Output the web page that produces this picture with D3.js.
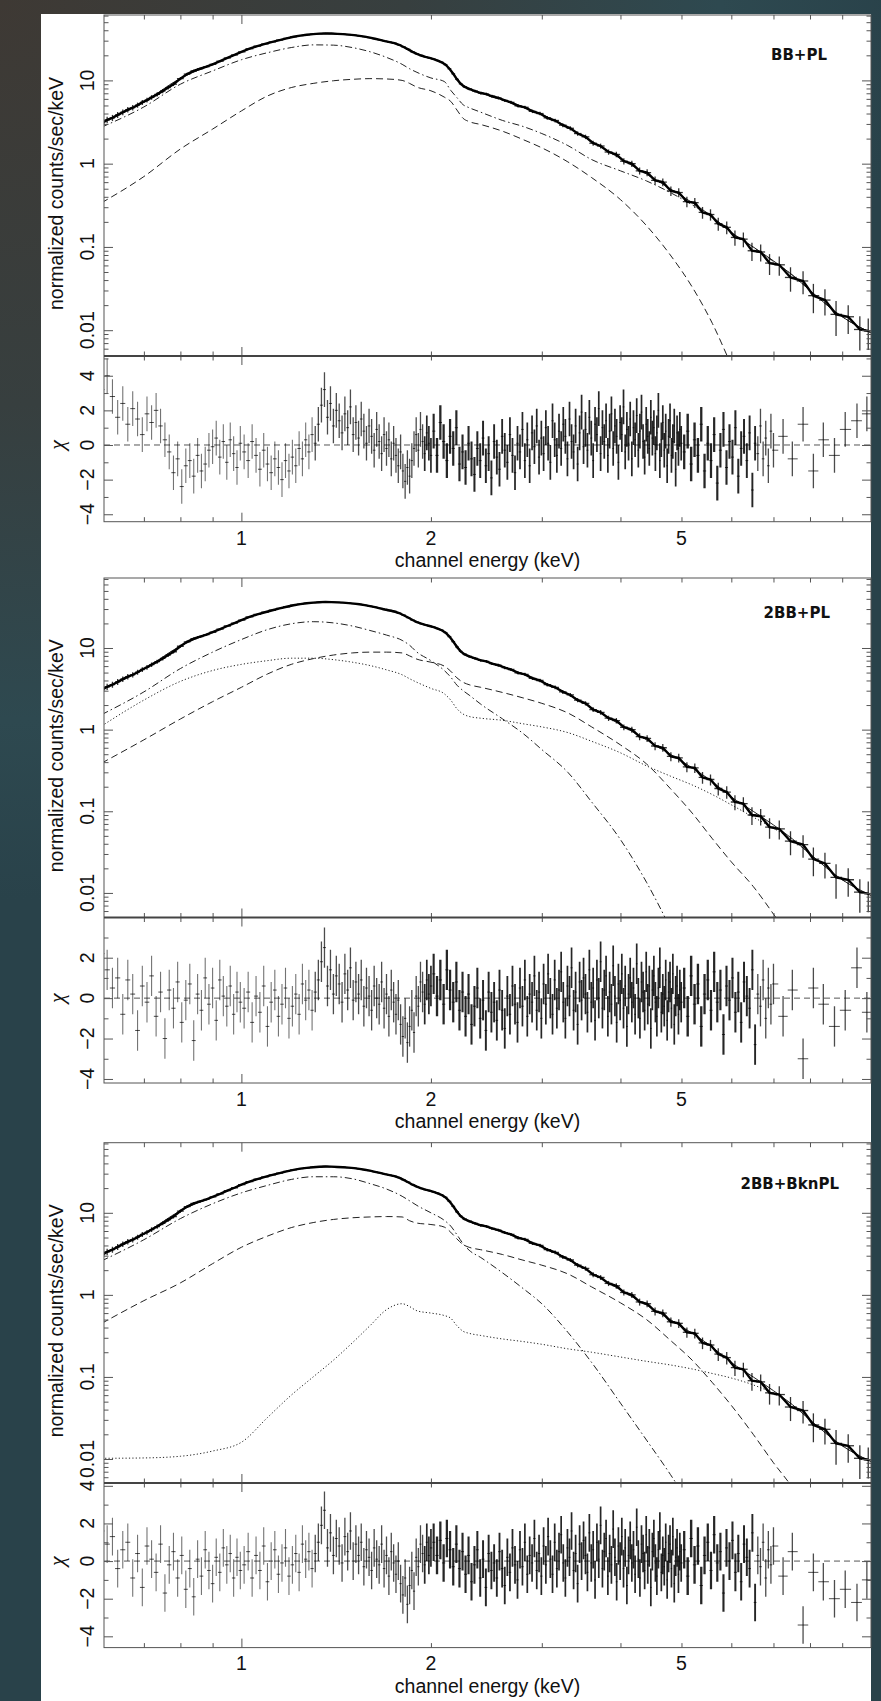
<!DOCTYPE html>
<html>
<head>
<meta charset="utf-8">
<script src="https://cdn.jsdelivr.net/npm/d3@7"></script>
<style>
  body { margin: 0; background: #2a4047; }
  svg text { font-family: "Liberation Sans", Arial, Helvetica, sans-serif; fill: #111; }
</style>
</head>
<body>
<script>
const width = 881, height = 1701;
const left = 104, right = 871;

// residual bins: channel energy (keV), shared by the three fits
const chanE = [
  0.600,0.612,0.624,0.636,0.648,0.660,0.672,0.684,0.696,0.708,
  0.720,0.732,0.744,0.756,0.768,0.780,0.792,0.804,0.816,0.828,
  0.840,0.852,0.864,0.876,0.888,0.900,0.912,0.924,0.936,0.948,
  0.960,0.972,0.984,0.996,
  1.010,1.025,1.040,1.055,1.070,1.085,1.100,1.115,1.130,1.145,
  1.160,1.175,1.190,1.205,1.220,1.235,1.250,1.265,1.280,1.295,
  1.310,1.325,1.340,1.355,1.370,1.385,1.400,1.415,1.430,1.445,
  1.460,1.475,1.490,1.505,1.520,1.535,1.550,1.565,1.580,1.595,
  1.610,1.625,1.640,1.655,1.670,1.685,1.700,1.715,1.730,1.745,
  1.760,1.775,1.790,1.805,1.820,1.835,1.850,1.865,1.880,1.895,
  1.910,1.925,1.940,1.955,1.970,1.985,2.000,
  2.020,2.045,2.070,2.095,2.120,2.145,2.170,2.195,2.220,2.245,
  2.270,2.295,2.320,2.345,2.370,2.395,2.420,2.445,2.470,2.495,
  2.520,2.545,2.570,2.595,2.620,2.645,2.670,2.695,2.720,2.745,
  2.770,2.795,2.820,2.845,2.870,2.895,2.920,2.945,2.970,2.995,
  3.020,3.045,3.070,3.095,3.120,3.145,3.170,3.195,3.220,3.245,
  3.270,3.295,3.320,3.345,3.370,3.395,3.420,3.445,3.470,3.495,
  3.520,3.545,3.570,3.595,3.620,3.645,3.670,3.695,3.720,3.745,
  3.770,3.795,3.820,3.845,3.870,3.895,3.920,3.945,3.970,3.995,
  4.020,4.045,4.070,4.095,4.120,4.145,4.170,4.195,4.220,4.245,
  4.270,4.295,4.320,4.345,4.370,4.395,4.420,4.445,4.470,4.495,
  4.520,4.545,4.570,4.595,4.620,4.645,4.670,4.695,4.720,4.745,
  4.770,4.795,4.820,4.845,4.870,4.895,4.920,4.945,4.970,4.995,
  5.050,5.115,5.180,5.245,5.310,5.375,5.440,5.505,5.570,5.635,
  5.700,5.765,5.830,5.895,5.960,6.025,6.090,6.155,6.220,6.285,
  6.350,6.415,6.480,6.545,6.610,6.675,6.740,6.805,6.870,6.935,
  7.000,
  7.25,7.50,7.80,8.10,8.40,8.75,9.10,9.50,9.85
];

// residuals (chi) for BB+PL
const chiBBPL = [
  3.2,4.0,2.8,1.6,2.4,1.2,2.1,1.5,0.6,1.8,
  1.3,2.0,1.1,0.3,-0.4,-1.6,-0.8,-2.4,-1.2,-0.9,
  -1.8,-0.6,-1.5,-1.1,-0.3,-0.1,0.4,-0.7,0.2,-1.0,
  0.3,-0.5,-1.3,0.1,
  -0.4,-0.9,0.2,-0.6,-1.4,-0.3,-1.1,-1.6,-0.8,-1.3,
  -2.0,-0.9,-1.5,-0.7,-1.2,-0.2,-0.8,0.3,-0.4,0.6,
  0.1,1.2,2.3,3.2,1.6,2.4,1.1,2.0,1.4,0.7,
  1.8,1.0,2.2,0.6,1.3,0.4,1.5,0.8,0.1,1.1,
  0.5,-0.3,0.9,0.2,-0.5,0.6,-0.2,0.3,-0.8,0.1,
  -0.6,-1.2,-0.4,-1.5,-2.1,-1.3,-1.8,-0.9,-0.2,0.6,
  -0.3,0.9,0.2,-0.5,0.7,0.1,-0.6,
  0.8,-0.6,1.3,0.2,-0.9,0.5,-0.2,1.0,-1.1,-0.4,
  -1.3,0.1,-0.8,-1.7,-0.2,-0.9,0.4,-1.2,-0.5,-1.9,
  0.2,-0.7,-1.4,0.5,-0.3,-1.0,0.6,-0.6,-1.6,0.1,
  -0.4,0.9,-0.9,0.3,-1.2,0.7,-0.1,1.1,-0.7,0.4,
  -0.5,1.0,0.1,-1.0,1.4,0.3,-0.6,0.8,-0.2,1.2,
  0.5,-0.8,1.5,0.2,-0.4,1.1,-1.1,0.7,1.9,-0.1,
  0.9,-0.3,1.6,0.4,-0.9,1.2,0.6,2.1,-0.5,1.0,
  0.2,1.4,-0.6,0.8,1.8,-0.2,1.1,0.5,-1.0,1.3,
  0.6,2.2,-0.4,0.9,0.1,1.5,-0.8,1.0,0.3,1.7,
  -0.3,0.8,1.9,0.2,-0.7,1.2,0.5,-0.2,1.6,0.4,
  1.0,-0.5,0.7,2.0,-0.9,0.3,1.3,-0.3,0.8,-1.2,
  0.5,1.4,-0.6,0.2,1.1,-1.4,0.7,-0.2,0.9,0.1,
  -0.4,0.8,-1.1,0.3,-0.6,1.2,-1.5,0.1,-0.9,0.6,
  -2.2,-0.3,0.9,-1.3,0.2,-0.7,1.0,-1.8,-0.2,0.5,
  -0.9,0.7,-2.6,0.1,-0.5,1.1,-0.8,0.4,-1.2,0.8,
  -0.3,
  0.5,-0.8,1.2,-1.5,0.3,-0.6,0.9,1.4,1.8
];

// residuals (chi) for 2BB+PL
const chi2BBPL = [
  2.2,1.4,0.5,1.0,-0.8,0.9,0.2,-1.6,0.6,-0.2,
  1.1,-0.9,0.3,-2.0,0.4,-0.5,0.8,-1.2,-0.1,0.7,
  -2.1,0.2,-0.6,1.0,-0.3,0.5,-1.1,0.9,0.1,-0.4,
  0.6,-0.8,0.3,-0.2,
  -0.5,0.3,-1.2,0.1,-0.7,0.6,-1.4,-0.2,0.4,-0.9,
  -0.3,0.5,-1.0,-0.4,0.2,-0.8,0.7,-0.1,0.4,-0.6,
  0.3,0.9,1.8,2.5,0.6,1.4,0.2,1.1,0.7,-0.2,
  1.2,0.4,1.5,-0.1,0.8,0.2,0.9,-0.4,0.5,0.1,
  -0.6,0.6,0.0,-0.3,0.8,-0.5,0.2,-0.9,0.4,-0.2,
  -0.8,-0.1,-1.3,-1.9,-1.0,-2.2,-1.4,-0.6,-1.7,0.1,
  -0.4,0.8,0.3,-0.3,0.9,0.2,0.6,
  1.2,0.1,0.9,-0.3,1.4,0.4,-0.2,0.8,-0.6,0.3,
  -0.9,0.2,-1.3,-0.4,0.5,-1.0,-0.1,-1.6,0.3,-0.7,
  -0.2,-1.1,0.4,-0.6,-1.5,0.1,-0.8,0.6,-0.3,-1.2,
  0.5,-0.4,0.9,-0.9,0.2,-0.2,1.1,-0.6,0.3,-1.0,
  0.7,-0.3,1.2,0.0,-0.8,0.9,-0.5,0.4,1.3,-0.2,
  -1.0,0.6,0.1,1.5,-0.6,0.3,-1.3,0.8,-0.1,1.0,
  0.2,-0.7,1.4,-0.2,0.5,-1.1,0.9,0.0,1.8,-0.5,
  0.4,1.1,-0.9,0.3,-0.3,1.6,0.1,-1.2,0.7,-0.1,
  1.2,-0.5,0.6,-1.4,0.2,1.0,-0.2,0.5,-0.8,1.7,
  0.0,-1.0,0.8,0.3,-0.6,1.3,-0.3,0.6,-1.5,0.4,
  1.1,-0.2,-0.9,0.5,1.5,-0.7,0.2,-0.4,0.9,-1.1,
  0.3,0.8,-0.5,1.2,-1.3,0.1,0.6,-0.8,0.4,-0.2,
  0.5,-0.9,1.1,-0.3,0.7,-1.4,0.2,0.9,-0.6,1.3,
  -0.2,0.4,-1.8,0.6,-0.1,1.0,-0.7,0.3,-1.2,0.8,
  0.1,-0.5,1.4,-2.3,0.2,-0.4,0.9,-1.0,0.5,-0.3,
  0.7,
  -0.9,0.4,-3.0,0.5,-0.3,-1.4,-0.6,1.5,-0.7
];

// residuals (chi) for 2BB+BknPL
const chi2BBBkn = [
  1.6,0.9,1.3,-0.4,0.6,1.0,-0.9,0.4,-1.4,0.8,
  0.1,-0.6,0.9,-1.7,-0.2,0.5,-0.9,0.3,-1.5,-0.4,
  -1.9,0.1,-0.8,0.6,-0.5,-1.2,0.2,-0.6,0.7,-0.2,
  0.4,-0.9,0.2,-0.5,
  -0.2,0.5,-0.9,0.3,-0.5,0.8,-1.1,0.0,0.6,-0.7,
  -0.1,0.7,-0.8,-0.2,0.4,-0.6,0.9,0.1,0.5,-0.4,
  0.4,1.0,1.9,2.7,0.7,1.5,0.3,1.2,0.8,-0.1,
  1.3,0.5,1.6,0.0,0.9,0.3,1.0,-0.3,0.6,0.2,
  -0.5,0.7,0.1,-0.2,0.9,-0.4,0.3,-0.8,0.5,-0.1,
  -0.7,0.0,-1.2,-1.8,-0.9,-2.3,-1.3,-0.5,-1.6,0.2,
  -0.3,0.9,0.4,-0.2,1.0,0.3,0.7,
  1.0,0.3,1.1,-0.1,1.2,0.6,-0.3,0.9,-0.4,0.5,
  -0.7,0.3,-1.1,-0.2,0.6,-0.9,0.1,-1.4,0.4,-0.5,
  -0.1,-0.9,0.5,-0.4,-1.3,0.2,-0.6,0.7,-0.2,-1.0,
  0.6,-0.3,1.0,-0.7,0.3,-0.1,1.2,-0.5,0.4,-0.8,
  0.8,-0.2,1.3,0.1,-0.7,1.0,-0.4,0.5,1.4,-0.1,
  -0.9,0.7,0.2,1.6,-0.5,0.4,-1.2,0.9,0.0,1.1,
  0.3,-0.6,1.5,-0.1,0.6,-1.0,1.0,0.1,1.9,-0.4,
  0.5,1.2,-0.8,0.4,-0.2,1.7,0.2,-1.1,0.8,0.0,
  1.3,-0.4,0.7,-1.3,0.3,1.1,-0.1,0.6,-0.7,1.8,
  0.1,-0.9,0.9,0.4,-0.5,1.4,-0.2,0.7,-1.4,0.5,
  1.2,-0.1,-0.8,0.6,1.6,-0.6,0.3,-0.3,1.0,-1.0,
  0.4,0.9,-0.4,1.3,-1.2,0.2,0.7,-0.7,0.5,-0.1,
  0.6,-0.8,1.2,-0.2,0.8,-1.3,0.3,1.0,-0.5,1.4,
  -0.1,0.5,-1.7,0.7,0.0,1.1,-0.6,0.4,-1.1,0.9,
  0.2,-0.4,1.5,-2.2,0.3,-0.3,1.0,-0.9,0.6,-0.2,
  0.8,
  -0.8,0.5,-3.4,-0.6,-1.1,-2.0,-1.5,-2.2,-1.0
];

// observed spectrum: [energy keV, counts/s/keV, 1-sigma error]
const spectrum = [
  [0.600,3.05,0.28],[0.612,3.35,0.30],[0.624,3.55,0.30],[0.636,3.85,0.32],[0.648,4.15,0.33],
  [0.660,4.45,0.34],[0.672,4.70,0.35],[0.684,5.05,0.36],[0.696,5.45,0.37],[0.708,5.80,0.38],
  [0.720,6.25,0.40],[0.735,6.80,0.40],[0.750,7.45,0.42],[0.765,8.20,0.43],[0.780,9.00,0.45],
  [0.800,10.5,0.45],[0.820,11.9,0.45],[0.840,13.0,0.45],[0.860,13.8,0.45],[0.880,14.6,0.45],
  [0.900,15.6,0.45],[0.925,17.0,0.45],[0.950,18.6,0.45],[0.975,20.2,0.45],[1.00,22.0,0.45],
  [1.03,24.0,0.45],[1.06,25.8,0.45],[1.09,27.4,0.45],[1.12,29.0,0.45],[1.15,30.5,0.45],
  [1.18,32.0,0.45],[1.21,33.4,0.45],[1.24,34.5,0.45],[1.27,35.3,0.45],[1.30,35.9,0.45],
  [1.33,36.4,0.45],[1.36,36.7,0.45],[1.39,36.5,0.45],[1.42,36.2,0.45],[1.45,35.9,0.45],
  [1.48,35.5,0.45],[1.51,35.0,0.45],[1.54,34.3,0.45],[1.57,33.5,0.45],[1.60,32.6,0.45],
  [1.63,31.6,0.45],[1.66,30.6,0.45],[1.69,29.6,0.45],[1.72,28.8,0.45],[1.75,28.0,0.45],
  [1.78,26.8,0.45],[1.81,25.2,0.45],[1.84,23.6,0.45],[1.87,22.0,0.45],[1.90,20.8,0.45],
  [1.93,19.9,0.45],[1.96,19.2,0.45],[1.99,18.6,0.45],[2.02,18.0,0.45],[2.05,17.3,0.45],
  [2.08,16.5,0.40],[2.11,15.4,0.40],[2.14,13.8,0.40],[2.17,12.0,0.35],[2.20,10.3,0.35],
  [2.23,9.10,0.30],[2.26,8.40,0.30],[2.30,7.90,0.28],[2.35,7.45,0.28],[2.40,7.05,0.27],
  [2.45,6.85,0.27],[2.50,6.45,0.26],[2.56,6.15,0.25],[2.62,5.75,0.24],[2.68,5.45,0.23],
  [2.75,4.95,0.22],[2.82,4.75,0.21],[2.90,4.25,0.20],[2.98,4.00,0.19],[3.06,3.55,0.18],
  [3.15,3.30,0.17],[3.24,2.90,0.16],[3.33,2.66,0.15],[3.42,2.30,0.14],[3.52,2.10,0.13],
  [3.62,1.76,0.12],[3.72,1.63,0.11],[3.83,1.38,0.10],[3.94,1.29,0.10],[4.05,1.07,0.09],
  [4.17,1.00,0.085],[4.29,0.82,0.08],[4.41,0.78,0.075],[4.54,0.63,0.07],[4.67,0.60,0.065],
  [4.81,0.47,0.06],[4.95,0.45,0.055],[5.10,0.35,0.05],[5.25,0.34,0.046],[5.40,0.26,0.042],
  [5.56,0.245,0.038],[5.72,0.19,0.034],[5.90,0.172,0.03],[6.08,0.13,0.027],[6.27,0.124,0.025],
  [6.47,0.09,0.022],[6.68,0.087,0.02],[6.90,0.064,0.018],[7.15,0.061,0.016],[7.45,0.043,0.014],
  [7.80,0.039,0.012],[8.10,0.026,0.010],[8.45,0.023,0.008],[8.80,0.0155,0.007],[9.20,0.0145,0.0055],
  [9.60,0.0102,0.0045],[9.90,0.0098,0.004]
];

// model curves on a common energy grid (keV)
const modelE = [0.6,0.7,0.8,0.9,1.0,1.1,1.2,1.3,1.4,1.5,1.6,1.7,1.8,1.85,1.9,2.0,2.1,2.15,2.2,2.25,
  2.3,2.4,2.6,2.8,3.0,3.3,3.6,4.0,4.4,4.8,5.2,5.6,6.0,6.5,7.0,7.5,8.0,9.0,10.0];
const modelTotal = [3.1,5.5,10.6,15.6,22,28,33,35.9,36.4,35.1,32.6,29.3,25.6,23,20.8,18.2,16,13.2,10.6,8.6,
  7.9,7.1,5.9,4.85,3.9,2.75,1.85,1.15,0.75,0.5,0.34,0.23,0.15,0.1,0.068,0.046,0.03,0.0145,0.0093];
// BB+PL
const plA = [2.75,4.8,9.0,13.0,17.7,21.5,24.8,26.7,26.5,24.8,22.1,18.9,15.6,13.8,12.5,10.7,9.7,7.6,6.2,5.1,
  4.7,4.15,3.3,2.8,2.3,1.65,1.12,0.82,0.62,0.45,0.32,0.225,0.148,0.099,0.067,0.046,0.03,0.0145,0.0093];
const bbA = [0.34,0.7,1.5,2.6,4.3,6.5,8.2,9.2,9.9,10.3,10.5,10.4,10.0,9.2,8.3,7.5,6.3,5.6,4.4,3.5,
  3.2,2.95,2.45,1.95,1.55,1.05,0.68,0.37,0.18,0.08,0.033,0.012,0.0038,0.001,null,null,null,null,null];
// 2BB+PL
const bbCoolB = [1.53,2.9,5.6,8.9,12.7,16.8,19.8,21,20.3,18.6,16.4,14.4,12.4,10.8,8.9,7.0,5.3,4.4,3.5,3.0,
  2.65,2.05,1.35,0.9,0.57,0.3,0.13,0.045,0.0135,0.0037,0.001,null,null,null,null,null,null,null,null];
const bbHotB = [0.39,0.75,1.35,2.2,3.3,4.8,6.3,7.4,8.2,8.7,8.9,8.9,8.7,8.0,7.3,6.7,6.0,5.2,4.3,3.8,
  3.55,3.3,2.85,2.45,2.1,1.6,1.08,0.65,0.38,0.19,0.095,0.046,0.024,0.012,0.0055,0.0025,0.001,null,null];
const plB = [1.11,2.3,3.9,5.3,6.3,7.0,7.5,7.5,7.2,6.7,6.1,5.4,4.7,4.2,3.8,3.2,2.75,2.3,1.8,1.55,
  1.45,1.38,1.3,1.18,1.08,0.92,0.72,0.52,0.36,0.27,0.21,0.16,0.12,0.085,0.062,0.045,0.03,0.0145,0.0093];
// 2BB+BknPL
const bbCoolC = [2.6,4.7,8.5,12.9,17.5,21.6,25.5,27.5,27.5,26.0,22.7,19.5,15.9,14.0,12.3,10.0,8.1,6.9,5.4,4.2,
  3.5,2.85,1.85,1.2,0.78,0.35,0.15,0.048,0.017,0.0065,0.0025,0.001,null,null,null,null,null,null,null];
const bbHotC = [0.45,0.85,1.4,2.4,3.8,5.2,6.6,7.6,8.3,8.7,8.9,9.0,8.9,8.0,7.5,7.2,6.7,5.8,4.8,4.1,
  3.8,3.55,3.1,2.65,2.3,1.8,1.25,0.8,0.5,0.28,0.16,0.085,0.045,0.02,0.009,0.0045,0.002,null,null];
const bknplC = [0.0102,0.0103,0.0108,0.0125,0.016,0.032,0.06,0.1,0.16,0.26,0.42,0.66,0.78,0.72,0.64,0.6,0.56,0.52,0.42,0.36,
  0.34,0.32,0.29,0.27,0.25,0.22,0.2,0.175,0.155,0.14,0.125,0.11,0.097,0.08,0.063,0.046,0.03,0.0145,0.0093];

const modelNames = ["BB+PL", "2BB+PL", "2BB+BknPL"];
const xTickLabels = [1, 2, 5];
const dashed = "7,4", dashDot = "7,3,1.5,3", dotted = "1.2,2.2";

// layout of the three stacked plots
const panels = [
  { top: 15, mid: 356, bot: 521.7, yDom: [0.0049, 61], rDom: [-4.43, 5.14], chi: chiBBPL,
    comps: [[plA, dashDot], [bbA, dashed]], nameX: 827, nameY: 55 },
  { top: 578, mid: 917.5, bot: 1083, yDom: [0.005, 72], rDom: [-4.2, 3.99], chi: chi2BBPL,
    comps: [[bbCoolB, dashDot], [bbHotB, dashed], [plB, dotted]], nameX: 830, nameY: 613 },
  { top: 1142.7, mid: 1483, bot: 1647.6, yDom: [0.0051, 71.5], rDom: [-4.6, 4.15], chi: chi2BBBkn,
    comps: [[bbCoolC, dashDot], [bbHotC, dashed], [bknplC, dotted]], nameX: 839, nameY: 1184 }
];

const svg = d3.select("body").append("svg")
  .attr("width", width)
  .attr("height", height);

const defs = svg.append("defs");
const grad = defs.append("radialGradient").attr("id", "bg")
  .attr("gradientUnits", "userSpaceOnUse").attr("cx", 0).attr("cy", 0).attr("r", 900);
[[0, "#3e3934"], [0.45, "#373f3f"], [0.8, "#2e4950"], [1, "#29424a"]]
  .forEach(s => grad.append("stop").attr("offset", s[0]).attr("stop-color", s[1]));

svg.append("rect").attr("width", width).attr("height", height).attr("fill", "url(#bg)");
svg.append("rect").attr("x", 41).attr("y", 14).attr("width", right - 41).attr("height", height - 14)
  .attr("fill", "#fff");

const x = d3.scaleLog().domain([0.605, 10]).range([left, right]);

function logTicks(dom) {
  const major = [], minor = [];
  [0.001, 0.01, 0.1, 1, 10].forEach(d => {
    if (d > dom[0] && d < dom[1]) major.push(d);
    for (let k = 2; k < 10; k++) {
      const v = k * d;
      if (v > dom[0] && v < dom[1]) minor.push(v);
    }
  });
  return { major, minor };
}

function tickSet(g, orient, scale, vals, size, tx, ty) {
  const ax = { top: d3.axisTop, bottom: d3.axisBottom, left: d3.axisLeft, right: d3.axisRight }[orient];
  g.append("g").attr("transform", `translate(${tx},${ty})`)
    .call(ax(scale).tickValues(vals).tickSize(-size).tickFormat(""))
    .call(s => s.select(".domain").remove())
    .selectAll("line").attr("stroke", "#555").attr("stroke-width", 1);
}

function vtext(g, cx, cy, str, size) {
  return g.append("text")
    .attr("transform", `translate(${cx},${cy}) rotate(-90)`)
    .attr("text-anchor", "middle").attr("dy", "0.35em")
    .style("font-size", size + "px").text(str);
}

// how heavy the residual bars look: the original is densest (black) between 2 and 6.6 keV
function barWeight(e, bw) {
  if (e > 1.95 && e < 6.6) return { w: Math.max(1.7, bw * 0.7), o: 0.85 };
  if (e > 1.3) return { w: 1.3, o: 0.7 };
  return { w: 1.1, o: 0.55 };
}

const xt = logTicks(x.domain());

panels.forEach((p, i) => {
  const g = svg.append("g");
  const y = d3.scaleLog().domain(p.yDom).range([p.mid, p.top]);
  const yr = d3.scaleLinear().domain(p.rDom).range([p.bot, p.mid]);

  defs.append("clipPath").attr("id", "cu" + i).append("rect")
    .attr("x", left).attr("y", p.top).attr("width", right - left).attr("height", p.mid - p.top);
  defs.append("clipPath").attr("id", "cr" + i).append("rect")
    .attr("x", left).attr("y", p.mid).attr("width", right - left).attr("height", p.bot - p.mid);

  // model components
  const up = g.append("g").attr("clip-path", `url(#cu${i})`);
  const line = d3.line().defined(d => d[1] != null)
    .x(d => x(d[0])).y(d => y(d[1])).curve(d3.curveMonotoneX);
  p.comps.forEach(([vals, dash]) => {
    up.append("path").datum(modelE.map((e, j) => [e, vals[j]]))
      .attr("d", line).attr("fill", "none")
      .attr("stroke", "#222").attr("stroke-width", 1).attr("stroke-dasharray", dash);
  });
  up.append("path").datum(modelE.map((e, j) => [e, modelTotal[j]]))
    .attr("d", line).attr("fill", "none").attr("stroke", "#222").attr("stroke-width", 1);

  // data with error bars
  const sx = spectrum.map(d => x(d[0]));
  const specBins = spectrum.map((d, j) => ({
    x: sx[j], v: d[1], e: d[2],
    xl: j > 0 ? (sx[j - 1] + sx[j]) / 2 : sx[j] - 2,
    xr: j < sx.length - 1 ? (sx[j] + sx[j + 1]) / 2 : sx[j] + 3
  }));
  up.append("path").datum(spectrum)
    .attr("d", d3.line().x(d => x(d[0])).y(d => y(d[1])))
    .attr("fill", "none").attr("stroke", "#000").attr("stroke-width", 2.4);
  const eb = up.append("g").attr("stroke", "#000").attr("stroke-opacity", 0.8).attr("stroke-width", 1.3);
  eb.selectAll(".v").data(specBins).join("line").attr("class", "v")
    .attr("x1", d => d.x).attr("x2", d => d.x)
    .attr("y1", d => y(Math.max(d.v - d.e, 1e-4))).attr("y2", d => y(d.v + d.e));
  eb.selectAll(".h").data(specBins).join("line").attr("class", "h")
    .attr("x1", d => d.xl).attr("x2", d => d.xr)
    .attr("y1", d => y(d.v)).attr("y2", d => y(d.v));

  // residuals
  const lo = g.append("g").attr("clip-path", `url(#cr${i})`);
  lo.append("line").attr("x1", left).attr("x2", right).attr("y1", yr(0)).attr("y2", yr(0))
    .attr("stroke", "#555").attr("stroke-dasharray", "6,4");
  const cx = chanE.map(e => x(e));
  const bins = chanE.map((e, j) => {
    const xl = j > 0 ? (cx[j - 1] + cx[j]) / 2 : cx[j] - (cx[j + 1] - cx[j]) / 2;
    const xr = j < cx.length - 1 ? (cx[j] + cx[j + 1]) / 2 : cx[j] + (cx[j] - cx[j - 1]) / 2;
    return { x: cx[j], c: p.chi[j], xl, xr, wt: barWeight(e, xr - xl) };
  }).filter(d => d.c != null);
  const rb = lo.append("g").attr("stroke", "#000");
  rb.selectAll(".v").data(bins).join("line").attr("class", "v")
    .attr("x1", d => d.x).attr("x2", d => d.x)
    .attr("y1", d => yr(d.c - 1)).attr("y2", d => yr(d.c + 1))
    .attr("stroke-width", d => d.wt.w)
    .attr("stroke-opacity", d => d.wt.o);
  rb.selectAll(".h").data(bins).join("line").attr("class", "h")
    .attr("x1", d => d.xl).attr("x2", d => d.xr)
    .attr("y1", d => yr(d.c)).attr("y2", d => yr(d.c))
    .attr("stroke-width", 1).attr("stroke-opacity", 0.7);

  // ticks
  const yt = logTicks(p.yDom);
  const rMajor = [-4, -2, 0, 2, 4].filter(v => v > p.rDom[0] && v < p.rDom[1]);
  const rMinor = [-3, -1, 1, 3, 5].filter(v => v > p.rDom[0] && v < p.rDom[1]);
  [[xt.major, 9], [xt.minor, 4.5]].forEach(([vals, s]) => {
    tickSet(g, "top", x, vals, s, 0, p.top);
    tickSet(g, "bottom", x, vals, s, 0, p.mid);
    tickSet(g, "top", x, vals, s, 0, p.mid);
    tickSet(g, "bottom", x, vals, s, 0, p.bot);
  });
  [[yt.major, 9], [yt.minor, 4.5]].forEach(([vals, s]) => {
    tickSet(g, "left", y, vals, s, left, 0);
    tickSet(g, "right", y, vals, s, right, 0);
  });
  [[rMajor, 9], [rMinor, 4.5]].forEach(([vals, s]) => {
    tickSet(g, "left", yr, vals, s, left, 0);
    tickSet(g, "right", yr, vals, s, right, 0);
  });

  // frame
  g.append("rect").attr("x", left).attr("y", p.top).attr("width", right - left).attr("height", p.bot - p.top)
    .attr("fill", "none").attr("stroke", "#555").attr("stroke-width", 1);
  g.append("line").attr("x1", left).attr("x2", right).attr("y1", p.mid).attr("y2", p.mid)
    .attr("stroke", "#444").attr("stroke-width", 2);

  // labels
  yt.major.forEach(v => vtext(g, 87, y(v), d3.format("~g")(v), 19.5));
  rMajor.forEach(v => vtext(g, 87, yr(v), v < 0 ? "\u2212" + (-v) : String(v), 19.5));
  vtext(g, 56, (p.top + p.mid) / 2 + 8, "normalized counts/sec/keV", 19.5);
  vtext(g, 56, yr(0), "\u03c7", 22).style("font-family", "'Liberation Serif', serif").style("font-style", "italic");
  xTickLabels.forEach(v => g.append("text").attr("x", x(v)).attr("y", p.bot + 16).attr("dy", "0.35em")
    .attr("text-anchor", "middle").style("font-size", "19.5px").text(v));
  g.append("text").attr("x", (left + right) / 2).attr("y", p.bot + 38.5).attr("dy", "0.35em")
    .attr("text-anchor", "middle").style("font-size", "19.5px").text("channel energy (keV)");
  g.append("text").attr("x", p.nameX).attr("y", p.nameY).attr("dy", "0.35em")
    .attr("text-anchor", "end").style("font-family", "'DejaVu Sans', sans-serif")
    .style("font-weight", "bold").style("font-size", "15px").text(modelNames[i]);
});
</script>
</body>
</html>
